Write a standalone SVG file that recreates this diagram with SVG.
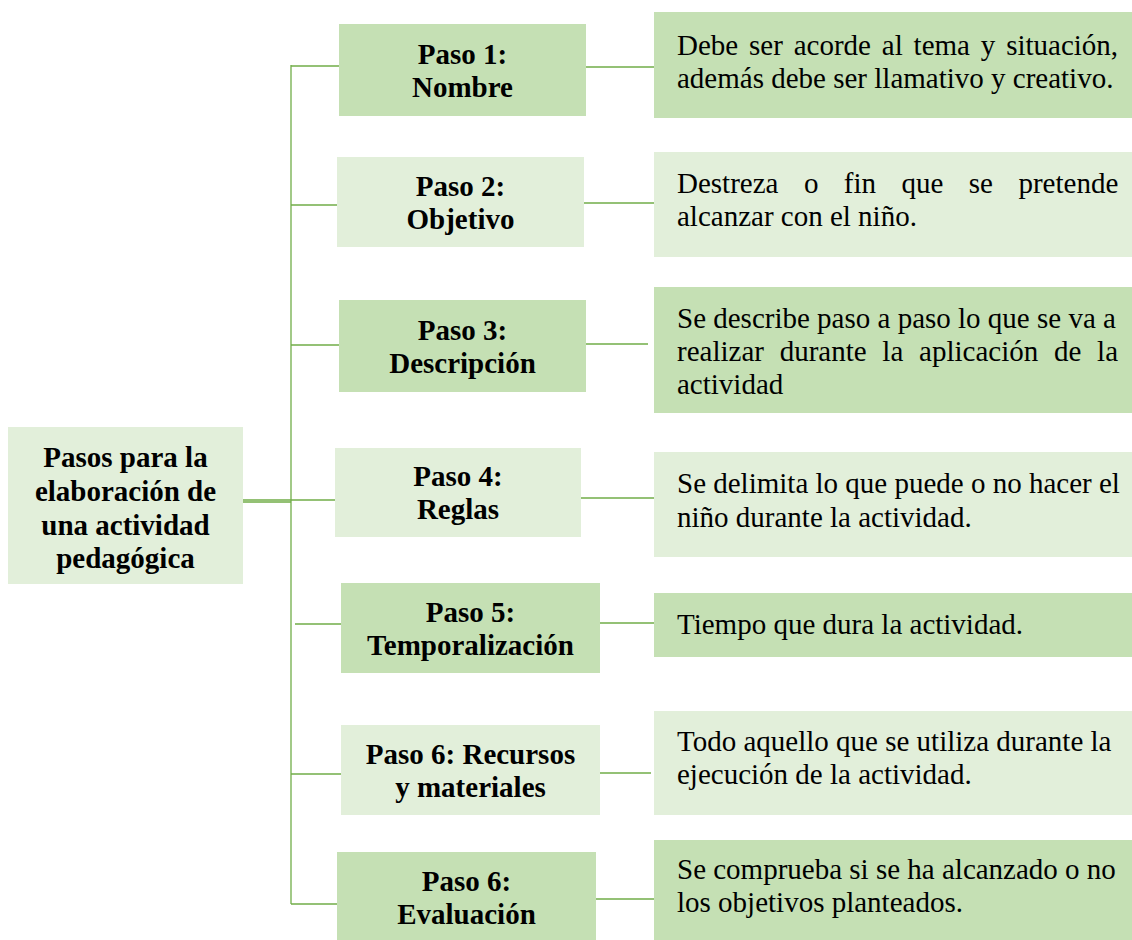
<svg xmlns="http://www.w3.org/2000/svg" width="1132" height="940" viewBox="0 0 1132 940">
<style>
.dk{fill:#C5E0B4}
.lt{fill:#E2EFDA}
.c{stroke:#70AD47;stroke-width:1.3;fill:none}
.h{font-family:"Liberation Serif","Times New Roman",serif;font-size:29px;font-weight:bold;fill:#000;text-anchor:middle}
.d{font-family:"Liberation Serif","Times New Roman",serif;font-size:29px;fill:#000}
</style>
<rect width="1132" height="940" fill="#fff"/>
<g id="connectors">
<line class="c" x1="291" y1="65" x2="291" y2="904"/>
<line class="c" x1="243" y1="500" x2="291" y2="500"/>
<line class="c" x1="243" y1="502" x2="291" y2="502"/>
<line class="c" x1="291" y1="66" x2="339" y2="66"/>
<line class="c" x1="291" y1="205" x2="337" y2="205"/>
<line class="c" x1="291" y1="345" x2="339" y2="345"/>
<line class="c" x1="291" y1="500" x2="335" y2="500"/>
<line class="c" x1="295" y1="624" x2="341" y2="624"/>
<line class="c" x1="291" y1="774" x2="341" y2="774"/>
<line class="c" x1="291" y1="904" x2="337" y2="904"/>
<line class="c" x1="586" y1="67" x2="654" y2="67"/>
<line class="c" x1="584" y1="203" x2="654" y2="203"/>
<line class="c" x1="586" y1="344" x2="648" y2="344"/>
<line class="c" x1="581" y1="498" x2="654" y2="498"/>
<line class="c" x1="600" y1="623" x2="654" y2="623"/>
<line class="c" x1="600" y1="773" x2="651" y2="773"/>
<line class="c" x1="596" y1="899" x2="654" y2="899"/>
</g>
<g id="root">
<rect class="lt" x="8" y="427" width="235" height="157"/>
<text class="h" x="125.5" y="467">Pasos para la</text>
<text class="h" x="125.5" y="501">elaboración de</text>
<text class="h" x="125.5" y="535">una actividad</text>
<text class="h" x="125.5" y="568">pedagógica</text>
</g>
<g id="paso1">
<rect class="dk" x="339" y="24" width="247" height="92"/>
<text class="h" x="462.5" y="64">Paso 1:</text>
<text class="h" x="462.5" y="97">Nombre</text>
</g>
<g id="paso2">
<rect class="lt" x="337" y="157" width="247" height="90"/>
<text class="h" x="460.5" y="196">Paso 2:</text>
<text class="h" x="460.5" y="229">Objetivo</text>
</g>
<g id="paso3">
<rect class="dk" x="339" y="300" width="247" height="92"/>
<text class="h" x="462.5" y="340">Paso 3:</text>
<text class="h" x="462.5" y="373">Descripción</text>
</g>
<g id="paso4">
<rect class="lt" x="335" y="448" width="246" height="89"/>
<text class="h" x="458" y="486">Paso 4:</text>
<text class="h" x="458" y="519">Reglas</text>
</g>
<g id="paso5">
<rect class="dk" x="341" y="583" width="259" height="90"/>
<text class="h" x="470.5" y="622">Paso 5:</text>
<text class="h" x="470.5" y="655">Temporalización</text>
</g>
<g id="paso6">
<rect class="lt" x="341" y="725" width="259" height="90"/>
<text class="h" x="470.5" y="764">Paso 6: Recursos</text>
<text class="h" x="470.5" y="797">y materiales</text>
</g>
<g id="paso7">
<rect class="dk" x="337" y="852" width="259" height="88"/>
<text class="h" x="466.5" y="891">Paso 6:</text>
<text class="h" x="466.5" y="924">Evaluación</text>
</g>
<g id="desc1">
<rect class="dk" x="654" y="12" width="478" height="106"/>
<text class="d" x="677" y="55" word-spacing="3.6">Debe ser acorde al tema y situación,</text>
<text class="d" x="677" y="88">además debe ser llamativo y creativo.</text>
</g>
<g id="desc2">
<rect class="lt" x="654" y="152" width="478" height="105"/>
<text class="d" x="677" y="193" word-spacing="18.2">Destreza o fin que se pretende</text>
<text class="d" x="677" y="226">alcanzar con el niño.</text>
</g>
<g id="desc3">
<rect class="dk" x="654" y="287" width="478" height="126"/>
<text class="d" x="677" y="328">Se describe paso a paso lo que se va a</text>
<text class="d" x="677" y="361" word-spacing="8.5">realizar durante la aplicación de la</text>
<text class="d" x="677" y="394">actividad</text>
</g>
<g id="desc4">
<rect class="lt" x="654" y="452" width="478" height="105"/>
<text class="d" x="677" y="493">Se delimita lo que puede o no hacer el</text>
<text class="d" x="677" y="527">niño durante la actividad.</text>
</g>
<g id="desc5">
<rect class="dk" x="654" y="593" width="478" height="64"/>
<text class="d" x="677" y="634">Tiempo que dura la actividad.</text>
</g>
<g id="desc6">
<rect class="lt" x="654" y="711" width="478" height="104"/>
<text class="d" x="677" y="751">Todo aquello que se utiliza durante la</text>
<text class="d" x="677" y="784">ejecución de la actividad.</text>
</g>
<g id="desc7">
<rect class="dk" x="654" y="840" width="478" height="100"/>
<text class="d" x="677" y="879">Se comprueba si se ha alcanzado o no</text>
<text class="d" x="677" y="912">los objetivos planteados.</text>
</g>
</svg>
